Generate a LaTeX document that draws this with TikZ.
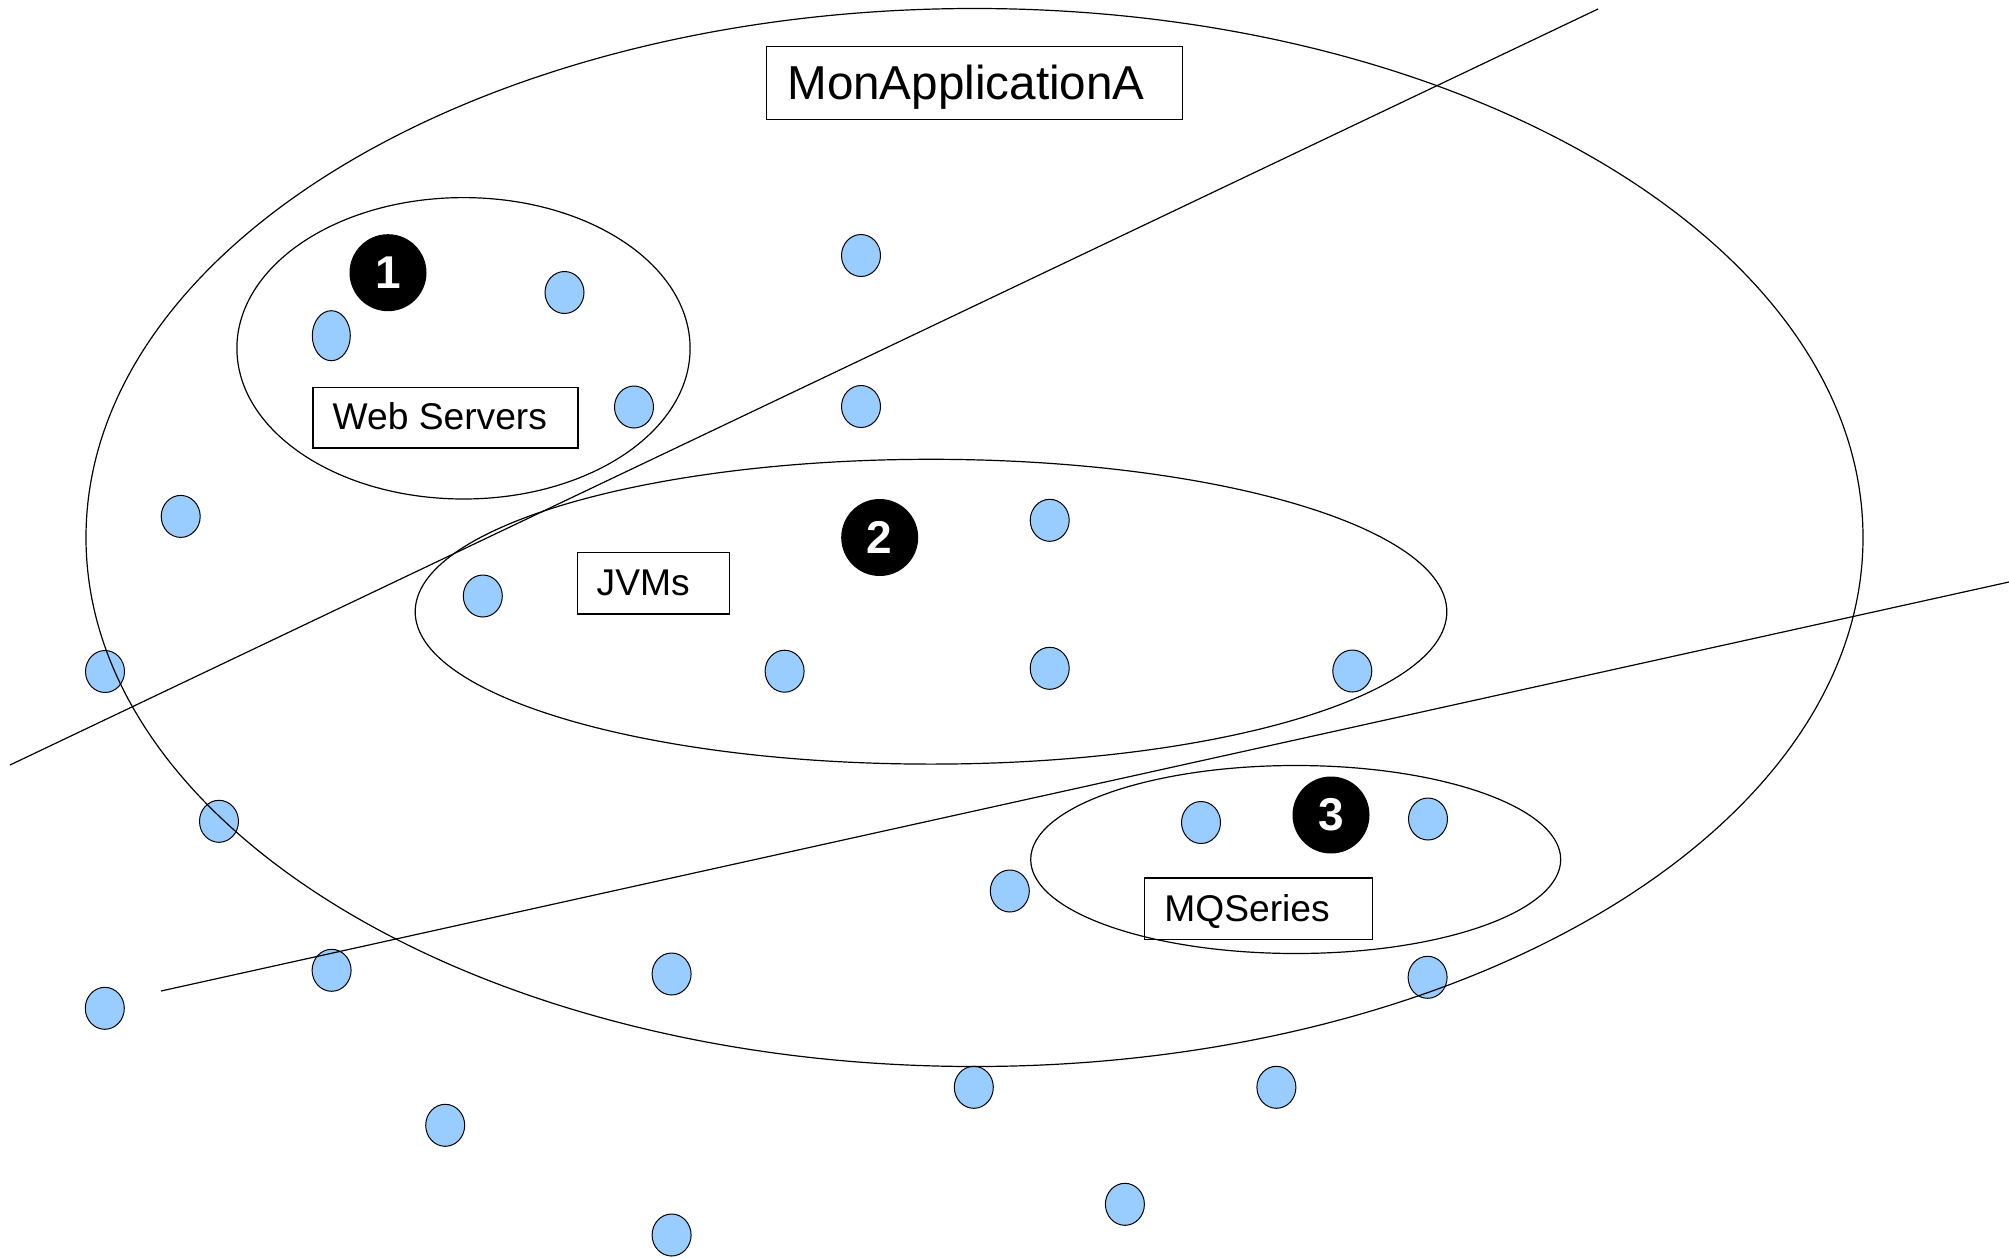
\documentclass[tikz,border=0pt]{standalone}
\usepackage{fontspec}
\setmainfont{Liberation Sans}
\usetikzlibrary{shapes.geometric}
\definecolor{dotblue}{RGB}{153,204,255}
\tikzset{
  dotnode/.style={ellipse, draw=black, fill=dotblue, line width=0.5pt, minimum width=19.5pt, minimum height=21pt, inner sep=0pt, outer sep=0pt},
  ring/.style={ellipse, draw=black, line width=0.6pt, inner sep=0pt, outer sep=0pt},
  badge/.style={circle, fill=black, minimum size=38.5pt, inner sep=0pt, text=white, font=\fontsize{23}{26}\selectfont\bfseries},
  labelbox/.style={rectangle, draw=black, line width=0.6pt, inner sep=0pt, anchor=north west},
  labeltext/.style={anchor=base west, inner sep=0pt, font=\fontsize{18.6}{22}\selectfont},
  divider/.style={draw=black, line width=0.6pt},
}
\begin{document}
\begin{tikzpicture}[x=0.5pt, y=-0.5pt]
\useasboundingbox (0,0) rectangle (2009,1258);
% dots
\node[dotnode, minimum width=19pt, minimum height=25pt] (d1) at (331.3,335.7) {};
\node[dotnode] (d2) at (564.5,292.5) {};
\node[dotnode] (d3) at (634,407) {};
\node[dotnode] (d4) at (861,255.5) {};
\node[dotnode] (d5) at (861,406.5) {};
\node[dotnode] (d6) at (180.7,516.4) {};
\node[dotnode] (d7) at (1049.7,520.3) {};
\node[dotnode] (d8) at (482.8,596) {};
\node[dotnode] (d9) at (105,671.5) {};
\node[dotnode] (d10) at (784.6,671.2) {};
\node[dotnode] (d11) at (1049.7,668.3) {};
\node[dotnode] (d12) at (1352.3,671) {};
\node[dotnode] (d13) at (219,821.3) {};
\node[dotnode] (d14) at (1201,822.5) {};
\node[dotnode] (d15) at (1428,819) {};
\node[dotnode] (d16) at (1009.8,891) {};
\node[dotnode] (d17) at (331.6,970.3) {};
\node[dotnode] (d18) at (671.6,974) {};
\node[dotnode] (d19) at (104.8,1008.3) {};
\node[dotnode] (d20) at (1427.6,977.3) {};
\node[dotnode] (d21) at (973.8,1087.3) {};
\node[dotnode] (d22) at (1276.4,1087.3) {};
\node[dotnode] (d23) at (445.2,1125.3) {};
\node[dotnode] (d24) at (1124.9,1204.3) {};
\node[dotnode] (d25) at (671.6,1235) {};
% group outlines
\node[ring, minimum width=888.5pt, minimum height=529pt] (app) at (974.5,537.5) {};
\node[ring, minimum width=226.6pt, minimum height=150.7pt] (web) at (463.5,348.3) {};
\node[ring, minimum width=515.8pt, minimum height=152.4pt] (jvm) at (931,611.7) {};
\node[ring, minimum width=265pt, minimum height=94pt] (mq) at (1295.7,859.5) {};
% dividing lines
\coordinate (u1) at (10,765);
\coordinate (u2) at (1598,9);
\coordinate (l1) at (161,991);
\coordinate (l2) at (2009,582);
\draw[divider] (u1) -- (u2);
\draw[divider] (l1) -- (l2);
% label boxes
\node[labelbox, minimum width=208pt, minimum height=36.5pt] (titlebox) at (766,46) {};
\node[anchor=base west, inner sep=0pt, font=\fontsize{23.8}{28}\selectfont] (titletext) at (787,99.3) {MonApplicationA};
\node[labelbox, minimum width=132.5pt, minimum height=30.3pt] (webbox) at (312.3,386.7) {};
\node[labeltext] (webtext) at (332.3,429.3) {Web Servers};
\node[labelbox, minimum width=75.75pt, minimum height=30.8pt] (jvmbox) at (577,551.7) {};
\node[labeltext] (jvmtext) at (596.3,595) {JVMs};
\node[labelbox, minimum width=113.75pt, minimum height=30.75pt] (mqbox) at (1144,877.3) {};
\node[labeltext] (mqtext) at (1164,921) {MQSeries};
% badges
\node[badge] (b1) at (388,272.7) {1};
\node[badge] (b2) at (879.7,537.5) {2};
\node[badge] (b3) at (1331,815) {3};
\end{tikzpicture}
\end{document}
